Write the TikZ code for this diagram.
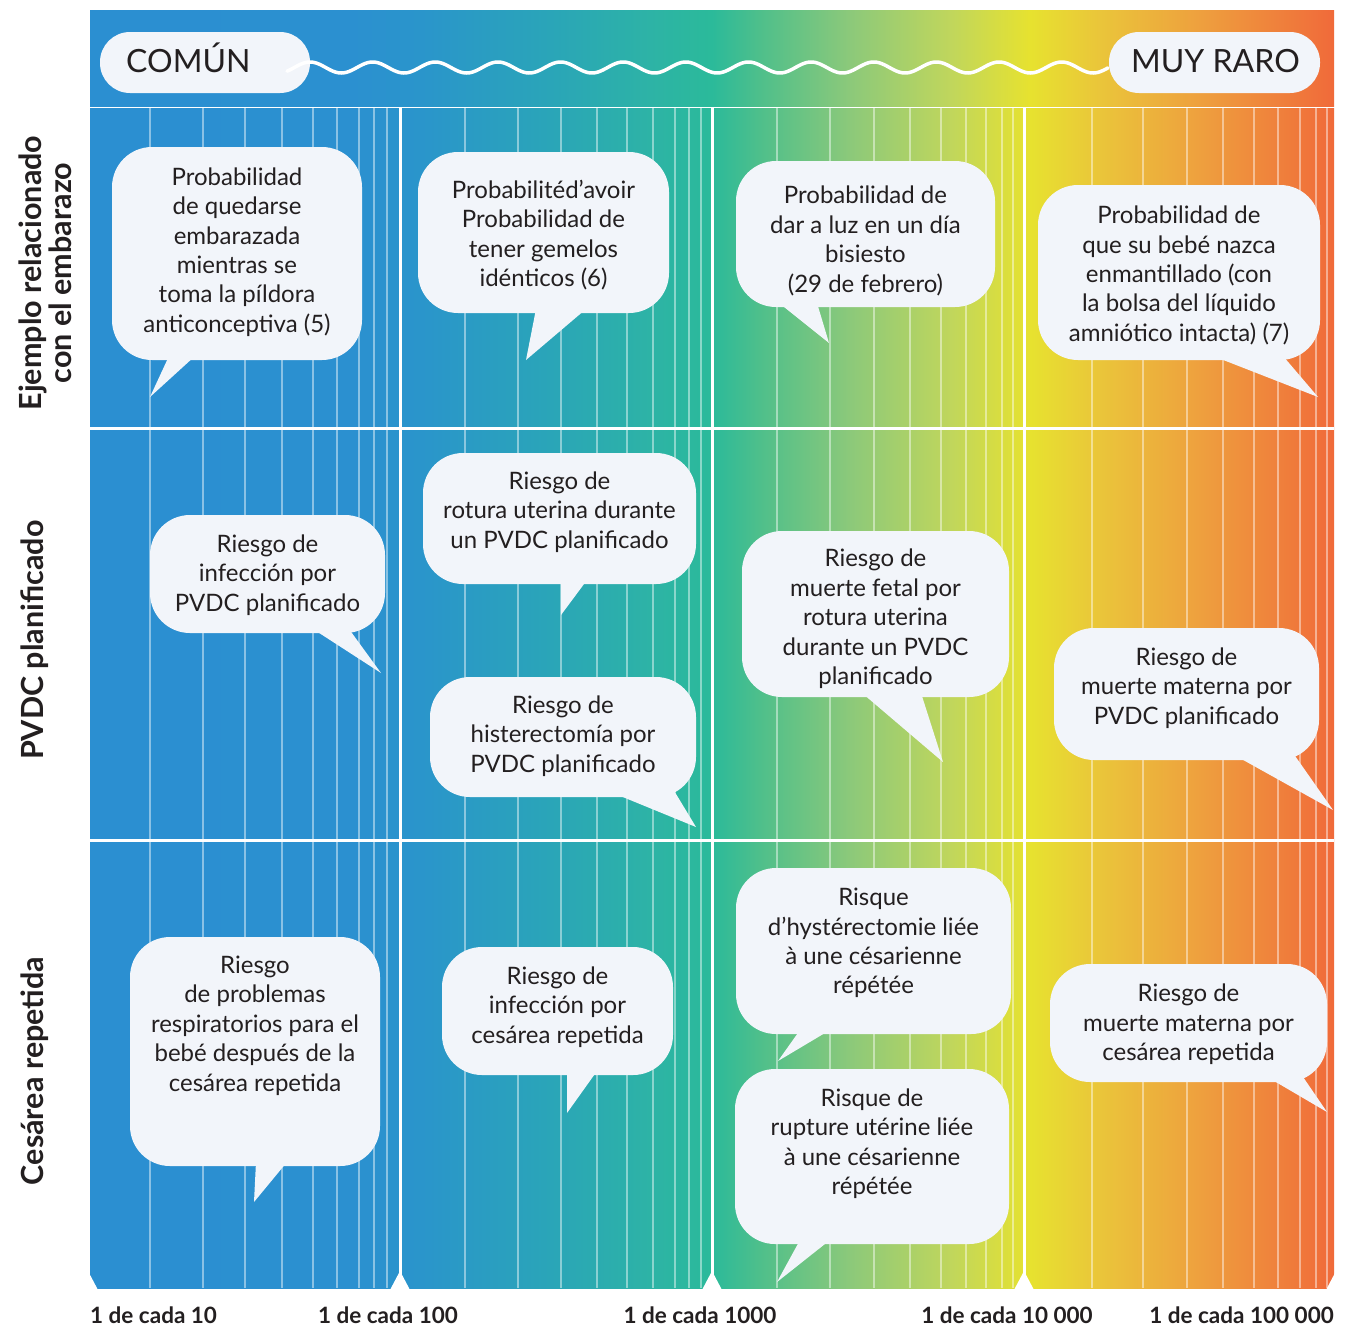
\documentclass[tikz,border=0pt]{standalone}
\usepackage{fontspec}
\setmainfont{Lato}
\definecolor{bub}{HTML}{F2F5FA}
\definecolor{ink}{HTML}{231F20}
\definecolor{ga}{HTML}{2B8FD1}
\definecolor{gb}{HTML}{2B90D0}
\definecolor{gc}{HTML}{2A95CB}
\definecolor{gd}{HTML}{2AA5B8}
\definecolor{ge}{HTML}{2DB3A6}
\definecolor{gf}{HTML}{2BBA9A}
\definecolor{gg}{HTML}{4EBF8B}
\definecolor{gh}{HTML}{8CC97A}
\definecolor{gi}{HTML}{C0D65C}
\definecolor{gj}{HTML}{E7E22F}
\definecolor{gk}{HTML}{EAC53A}
\definecolor{gl}{HTML}{EEA03E}
\definecolor{gm}{HTML}{F06A3A}
\pgfdeclarehorizontalshading{riskgrad}{100bp}{color(0bp)=(ga); color(25bp)=(ga); color(35.45bp)=(gb); color(38.3bp)=(gc); color(43.5bp)=(gd); color(47.5bp)=(ge); color(50bp)=(gf); color(51.9bp)=(gg); color(55.55bp)=(gh); color(59.6bp)=(gi); color(62.8bp)=(gj); color(65.6bp)=(gk); color(69.6bp)=(gl); color(75bp)=(gm); color(100bp)=(gm)}
\tikzset{
  btext/.style={align=center, text=ink, font=\fontsize{24}{29.4}\selectfont, inner sep=0pt},
  pilltext/.style={text=ink, font=\fontsize{32}{36}\selectfont, inner sep=0pt, anchor=base west},
  rowlabel/.style={rotate=90, align=center, text=ink, font=\bfseries\fontsize{30.5}{30}\selectfont, inner sep=0pt},
  axislabel/.style={text=ink, font=\bfseries\fontsize{22.5}{24}\selectfont, inner sep=0pt},
  minorline/.style={white, opacity=0.45, line width=1.3pt},
  majorline/.style={white, line width=3pt},
}
\newcommand{\sbub}[8]{%
  \fill[bub, rounded corners=40pt] (#2,#3) rectangle (#4,#5);
  \fill[bub] #6 -- cycle;
  \node[btext] (#1) at ({(#2+#4)/2},{#7+4}) {#8};
}
\begin{document}
\begin{tikzpicture}[x=1pt, y=-1pt]
\useasboundingbox (0,0) rectangle (1348,1326);
\fill[white] (0,0) rectangle (1348,1326);
% header band and grid
\shade[shading=riskgrad] (90,10) rectangle (1334,106);
\shade[shading=riskgrad] (90,108) rectangle (1334,1288);
% minor log lines
\foreach \mx in {150,203,245,282,313,337,359,374,387,
                 465,518,561,597,627,653,675,689,701,
                 777,830,874,910,941,966,986,1002,1013,
                 1092,1143,1187,1223,1254,1278,1300,1316,1327}
  \draw[minorline] (\mx,108) -- (\mx,1288);
% decade lines and row lines
\foreach \dx in {400,712,1024}
  \draw[majorline] (\dx,108) -- (\dx,1288);
\draw[majorline] (90,428) -- (1334,428);
\draw[majorline] (90,840) -- (1334,840);
% bottom notches
\fill[white] (88,1271) -- (97.5,1289) -- (88,1289) -- cycle;
\foreach \dx in {400,712,1024}
  \fill[white] (\dx,1271) -- (\dx+9.5,1289) -- (\dx-9.5,1289) -- cycle;
\fill[white] (1336,1271) -- (1336,1289) -- (1326.5,1289) -- cycle;
% header pills
\fill[bub, rounded corners=30pt] (100,32) rectangle (310,93);
\fill[bub, rounded corners=30pt] (1109,32) rectangle (1320,93);
\draw[white, line width=3.5pt, line cap=round] plot[domain=287:1108, samples=500] (\x, {67.5 - 5.5*cos(5.747*(\x-310))});
\node[pilltext] (comun) at (126,72) {COMÚN};
\node[pilltext] (raro) at (1131,72) {MUY RARO};
% row labels
\node[rowlabel] (r1) at (45,273) {Ejemplo relacionado\\con el embarazo};
\node[rowlabel] (r2) at (35,640) {PVDC planificado};
\node[rowlabel] (r3) at (35,1071) {Cesárea repetida};
% axis labels
\node[axislabel, anchor=base west] (a1) at (90,1323) {1 de cada 10};
\node[axislabel, anchor=base] (a2) at (388,1323) {1 de cada 100};
\node[axislabel, anchor=base] (a3) at (700,1323) {1 de cada 1000};
\node[axislabel, anchor=base] (a4) at (1007,1323) {1 de cada 10 000};
\node[axislabel, anchor=base east] (a5) at (1334,1323) {1 de cada 100 000};
% bubbles row 1
\sbub{b1}{112}{147}{362}{360}{(169,356) -- (150,397) -- (195,356)}{248}{Probabilidad\\de quedarse\\embarazada\\mientras se\\toma la píldora\\anticonceptiva (5)}
\sbub{b2}{418}{152}{669}{313}{(536,309) -- (526,360) -- (586,309)}{231}{Probabilitéd’avoir\\Probabilidad de\\tener gemelos\\idénticos (6)}
\sbub{b3}{736}{161}{995}{307}{(779,303) -- (829,343) -- (817,303)}{237}{Probabilidad de\\dar a luz en un día\\bisiesto\\(29 de febrero)}
\sbub{b4}{1038}{185}{1320}{360}{(1213,356) -- (1318,397) -- (1283,356)}{271.5}{Probabilidad de\\que su bebé nazca\\enmantillado (con\\la bolsa del líquido\\amniótico intacta) (7)}
% row 2
\sbub{b5}{150}{515}{385}{633}{(313,629) -- (381,673) -- (349,629)}{571}{Riesgo de\\infección por\\PVDC planificado}
\sbub{b6}{423}{453}{696}{584}{(561,580) -- (561,615) -- (587,580)}{508}{Riesgo de\\rotura uterina durante\\un PVDC planificado}
\sbub{b7}{430}{677}{696}{797}{(613,793) -- (696,827) -- (673,789)}{732}{Riesgo de\\histerectomía por\\PVDC planificado}
\sbub{b8}{742}{531}{1009}{697}{(862,693) -- (943,762) -- (921,693)}{615}{Riesgo de\\muerte fetal por\\rotura uterina\\durante un PVDC\\planificado}
\sbub{b9}{1054}{628}{1319}{760}{(1236,756) -- (1333,810) -- (1293,753)}{684}{Riesgo de\\muerte materna por\\PVDC planificado}
% row 3
\sbub{b10}{130}{937}{380}{1166}{(256,1162) -- (254,1202) -- (287,1162)}{1021.5}{Riesgo\\de problemas\\respiratorios para el\\bebé después de la\\cesárea repetida}
\sbub{b11}{442}{947}{673}{1075}{(567,1071) -- (567,1113) -- (597,1071)}{1003}{Riesgo de\\infección por\\cesárea repetida}
\sbub{b12}{736}{868}{1011}{1034}{(800,1030) -- (778,1061) -- (830,1030)}{939}{Risque\\d’hystérectomie liée\\à une césarienne\\répétée}
\sbub{b13}{735}{1069}{1009}{1244}{(800,1240) -- (777,1282) -- (830,1240)}{1139.5}{Risque de\\rupture utérine liée\\à une césarienne\\répétée}
\sbub{b14}{1050}{964}{1327}{1082}{(1269,1078) -- (1327,1112) -- (1301,1074)}{1020.5}{Riesgo de\\muerte materna por\\cesárea repetida}
\end{tikzpicture}
\end{document}
